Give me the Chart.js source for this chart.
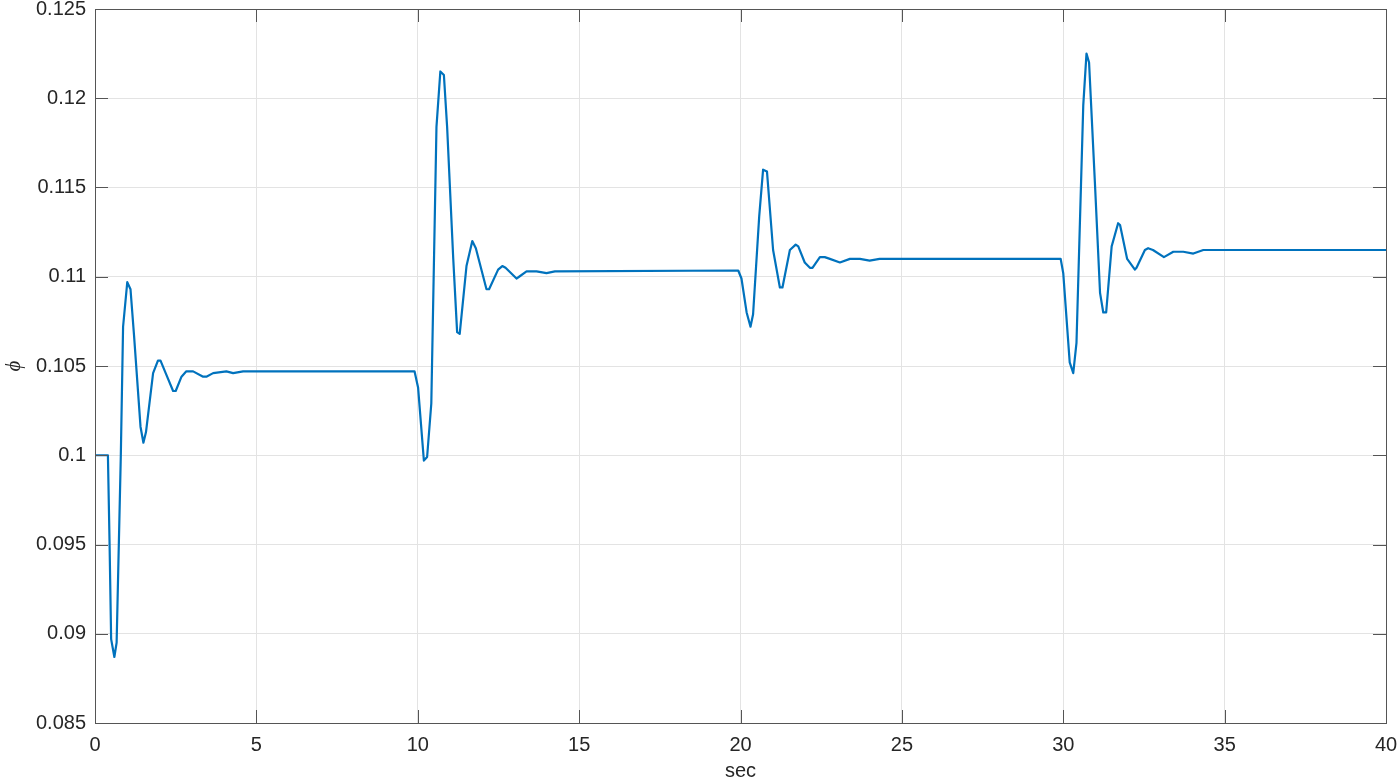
<!DOCTYPE html>
<html>
<head>
<meta charset="utf-8">
<script src="https://cdn.jsdelivr.net/npm/chart.js@4/dist/chart.umd.min.js"></script>
<style>
  html, body { margin: 0; padding: 0; background: #fff; }
  canvas { display: block; }
</style>
</head>
<body>
<canvas id="phiChart" width="1400" height="780"></canvas>
<script>
// time samples (sec) and phi response
const timeSec = [
    0, 0.4, 0.45, 0.5, 0.6, 0.67, 0.8, 0.87, 1.0, 1.1, 1.21, 1.41, 1.5, 1.58, 1.8, 1.95, 2.03, 2.19,
    2.42, 2.5, 2.68, 2.83, 3.04, 3.35, 3.45, 3.66, 4.07, 4.28, 4.59, 9.9,
    10.01, 10.19, 10.29, 10.42, 10.58, 10.70, 10.81, 10.91, 11.1, 11.22, 11.30, 11.51, 11.69, 11.80,
    12.13, 12.21, 12.49, 12.62, 12.72, 13.06, 13.14, 13.37, 13.68, 13.99, 14.25, 19.93,
    20.03, 20.19, 20.31, 20.39, 20.58, 20.70, 20.82, 21.01, 21.22, 21.30, 21.53, 21.71, 21.79, 21.99,
    22.15, 22.23, 22.46, 22.61, 22.77, 23.08, 23.39, 23.70, 24.00, 24.31, 29.92,
    30.0, 30.2, 30.31, 30.41, 30.62, 30.72, 30.80, 30.98, 31.14, 31.24, 31.33, 31.5, 31.70, 31.76,
    31.98, 32.22, 32.27, 32.53, 32.63, 32.78, 33.12, 33.41, 33.72, 34.03, 34.34, 40
];
const phi = [
    0.1, 0.1, 0.0952, 0.0897, 0.0887, 0.0895, 0.1000, 0.1072, 0.1097, 0.1093, 0.1067, 0.1016, 0.1007, 0.1013, 0.1046, 0.1053, 0.1053, 0.1046,
    0.1036, 0.1036, 0.1044, 0.1047, 0.1047, 0.1044, 0.1044, 0.1046, 0.1047, 0.1046, 0.1047, 0.1047,
    0.1038, 0.0997, 0.0999, 0.1029, 0.1184, 0.1215, 0.1213, 0.1184, 0.1110, 0.1069, 0.1068, 0.1106, 0.1120, 0.1116,
    0.1093, 0.1093, 0.1104, 0.1106, 0.1105, 0.1099, 0.1100, 0.1103, 0.1103, 0.1102, 0.1103, 0.11035,
    0.1099, 0.1080, 0.1072, 0.1079, 0.1134, 0.1160, 0.1159, 0.1115, 0.1094, 0.1094, 0.1115, 0.1118, 0.1117, 0.1108,
    0.1105, 0.1105, 0.1111, 0.1111, 0.1110, 0.1108, 0.1110, 0.1110, 0.1109, 0.1110, 0.1110,
    0.1102, 0.1052, 0.1046, 0.1063, 0.1196, 0.1225, 0.1220, 0.1153, 0.1091, 0.1080, 0.1080, 0.1117, 0.1130, 0.1129,
    0.1110, 0.1104, 0.1105, 0.1115, 0.1116, 0.1115, 0.1111, 0.1114, 0.1114, 0.1113, 0.1115, 0.1115
];

const xTicks = [0, 5, 10, 15, 20, 25, 30, 35, 40];
const yTicks = [0.085, 0.09, 0.095, 0.1, 0.105, 0.11, 0.115, 0.12, 0.125];

const textColor = "#262626";
const axisColor = "#555555";
const gridColor = "#e3e3e3";
const labelFont = { family: "'Liberation Sans', Arial, sans-serif", size: 20 };

// matlab-like box with inward ticks on all four sides
const boxTicks = {
    id: "boxTicks",
    afterDraw(chart) {
        const { ctx, chartArea: a, scales } = chart;
        const len = 13;
        ctx.save();
        ctx.strokeStyle = axisColor;
        ctx.lineWidth = 1;
        ctx.beginPath();
        xTicks.forEach((v) => {
            const px = Math.round(scales.x.getPixelForValue(v)) + 0.5;
            ctx.moveTo(px, a.bottom);
            ctx.lineTo(px, a.bottom - len);
            ctx.moveTo(px, a.top);
            ctx.lineTo(px, a.top + len);
        });
        yTicks.forEach((v) => {
            const py = Math.round(scales.y.getPixelForValue(v)) + 0.5;
            ctx.moveTo(a.left, py);
            ctx.lineTo(a.left + len, py);
            ctx.moveTo(a.right, py);
            ctx.lineTo(a.right - len, py);
        });
        ctx.stroke();
        ctx.strokeRect(Math.round(a.left) + 0.5, Math.round(a.top) + 0.5,
            Math.round(a.right - a.left), Math.round(a.bottom - a.top));
        ctx.restore();
    },
};

const points = timeSec.map((t, i) => ({ x: t, y: phi[i] }));

new Chart(document.getElementById("phiChart"), {
    type: "line",
    data: {
        datasets: [
            {
                data: points,
                borderColor: "#0072BD",
                borderWidth: 2.2,
                borderJoinStyle: "round",
                pointRadius: 0,
                tension: 0,
                fill: false,
            },
        ],
    },
    options: {
        responsive: false,
        devicePixelRatio: 1,
        animation: false,
        layout: { padding: { top: 9, right: 14, left: 0, bottom: 0 } },
        plugins: {
            legend: { display: false },
            tooltip: { enabled: false },
        },
        scales: {
            x: {
                type: "linear",
                min: 0,
                max: 40,
                afterBuildTicks: (s) => { s.ticks = xTicks.map((v) => ({ value: v })); },
                afterFit: (s) => {
                    s.height = 57;
                    s.paddingLeft = 0;
                    s.paddingRight = 0;
                },
                grid: { color: gridColor, drawTicks: false },
                border: { display: false },
                ticks: {
                    color: textColor,
                    padding: 10,
                    font: labelFont,
                    maxRotation: 0,
                },
                title: {
                    display: true,
                    text: "sec",
                    color: textColor,
                    padding: { top: 0, bottom: -3 },
                    font: labelFont,
                },
            },
            y: {
                min: 0.085,
                max: 0.125,
                afterBuildTicks: (s) => { s.ticks = yTicks.map((v) => ({ value: v })); },
                afterFit: (s) => {
                    s.width = 95;
                    s.paddingTop = 0;
                    s.paddingBottom = 0;
                },
                grid: { color: gridColor, drawTicks: false },
                border: { display: false },
                ticks: {
                    color: textColor,
                    padding: 9,
                    font: labelFont,
                    callback: (v) => String(Number(v.toFixed(3))),
                },
                title: {
                    display: true,
                    text: "ϕ",
                    color: textColor,
                    padding: { top: 2, bottom: 0 },
                    font: { family: "'Liberation Serif', 'DejaVu Serif', serif", size: 21, style: "italic" },
                },
            },
        },
    },
    plugins: [boxTicks],
});
</script>
</body>
</html>
